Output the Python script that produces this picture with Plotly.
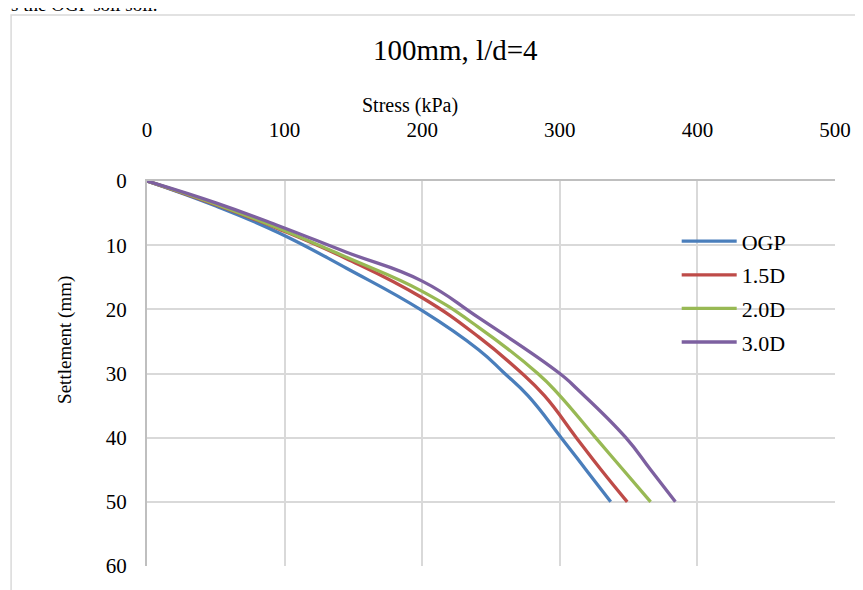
import plotly.graph_objects as go

# ---- data ----
series_names = ["OGP", "1.5D", "2.0D", "3.0D"]
series_colors = ["#4A7EBB", "#BE4B48", "#98B954", "#7D60A0"]

ogp_stress = [0, 50, 96, 145, 200, 241, 259, 277, 301, 319, 337]
ogp_settle = [0, 3.9, 8.1, 13.6, 20.2, 26.3, 29.8, 33.5, 40, 45, 50]

d15_stress = [0, 50, 96, 145, 200, 241, 270, 289, 312, 330, 349]
d15_settle = [0, 3.7, 7.5, 12.1, 18.2, 24.3, 29.5, 33.5, 40, 45, 50]

d20_stress = [0, 50, 96, 145, 200, 241, 284, 299, 326, 346, 366]
d20_settle = [0, 3.6, 7.4, 11.9, 17.2, 22.8, 30, 33.2, 40, 45, 50]

d30_stress = [0, 50, 96, 145, 200, 241, 300, 313, 348, 366, 384]
d30_settle = [0, 3.4, 7.0, 11.1, 15.6, 21.3, 30, 32.5, 40, 45, 50]

x_ticks = [0, 100, 200, 300, 400, 500]
y_ticks = [0, 10, 20, 30, 40, 50, 60]

chart_title = "100mm, l/d=4"
x_title = "Stress (kPa)"
y_title = "Settlement (mm)"
cut_text = "s the OGP soil soil."

FONT = "Liberation Serif, Times New Roman, serif"

fig = go.Figure()
all_x = [ogp_stress, d15_stress, d20_stress, d30_stress]
all_y = [ogp_settle, d15_settle, d20_settle, d30_settle]
for i, (nm, col) in enumerate(zip(series_names, series_colors)):
    fig.add_trace(go.Scatter(
        x=all_x[i], y=all_y[i], name=nm, mode="lines",
        line=dict(color=col, width=3.3, shape="spline", smoothing=1.3),
        legendgroup=nm,
    ))

# page body has an 8px margin: work in screen pixels, convert to figure
OFF = 8
W, H = 863 - OFF, 590 - OFF
L, R, T, B = 147 - OFF, 838 - OFF, 181 - OFF, 572 - OFF
pw, ph = R - L, B - T

def sx(px):
    return (px - OFF - L) / pw

def sy(py):
    return (B - (py - OFF)) / ph

fig.update_layout(
    width=W, height=H,
    margin=dict(l=L, r=W - R, t=T, b=H - B, pad=0),
    paper_bgcolor="white", plot_bgcolor="white",
    font=dict(family=FONT, size=21, color="#000000"),
    showlegend=True,
    legend=dict(
        x=sx(679), y=sy(221), xanchor="left", yanchor="top",
        font=dict(family=FONT, size=22, color="#000000"),
        bgcolor="rgba(0,0,0,0)", itemwidth=55,
        tracegroupgap=2, traceorder="grouped",
    ),
    xaxis=dict(
        side="top", range=[0, 500], tickvals=x_ticks,
        ticktext=[str(v) for v in x_ticks],
        showgrid=True, gridcolor="#D9D9D9", gridwidth=1.5,
        showline=True, linecolor="#BFBFBF", linewidth=2,
        zeroline=False, ticks="", ticklabelstandoff=34,
        tickfont=dict(family=FONT, size=21, color="#000000"),
    ),
    yaxis=dict(
        range=[60, 0], tickvals=y_ticks,
        ticktext=[str(v) for v in y_ticks],
        showgrid=True, gridcolor="#D9D9D9", gridwidth=1.5,
        showline=True, linecolor="#BFBFBF", linewidth=2,
        zeroline=False, ticks="", ticklabelstandoff=14,
        tickfont=dict(family=FONT, size=21, color="#000000"),
    ),
)

# outer chart border (runs off the window on the right / bottom)
fig.add_shape(type="rect", xref="paper", yref="paper",
              x0=sx(10.5), y0=sy(700), x1=sx(1000), y1=sy(12.5),
              line=dict(color="#D9D9D9", width=1.5), fillcolor="rgba(0,0,0,0)",
              layer="below")

fig.add_annotation(text=chart_title, xref="paper", yref="paper",
                   x=sx(457), y=sy(48), xanchor="center", yanchor="middle",
                   showarrow=False, font=dict(family=FONT, size=29, color="#000000"))
fig.add_annotation(text=x_title, xref="paper", yref="paper",
                   x=sx(411), y=sy(104), xanchor="center", yanchor="middle",
                   showarrow=False, font=dict(family=FONT, size=20, color="#000000"))
fig.add_annotation(text=y_title, xref="paper", yref="paper",
                   x=sx(64), y=sy(342), xanchor="center", yanchor="middle",
                   textangle=-90,
                   showarrow=False, font=dict(family=FONT, size=19, color="#000000"))
fig.add_annotation(text=cut_text, xref="paper", yref="paper",
                   x=sx(8), y=sy(14), xanchor="left", yanchor="bottom",
                   showarrow=False, font=dict(family=FONT, size=19, color="#000000"))

fig.write_html("out.html")
